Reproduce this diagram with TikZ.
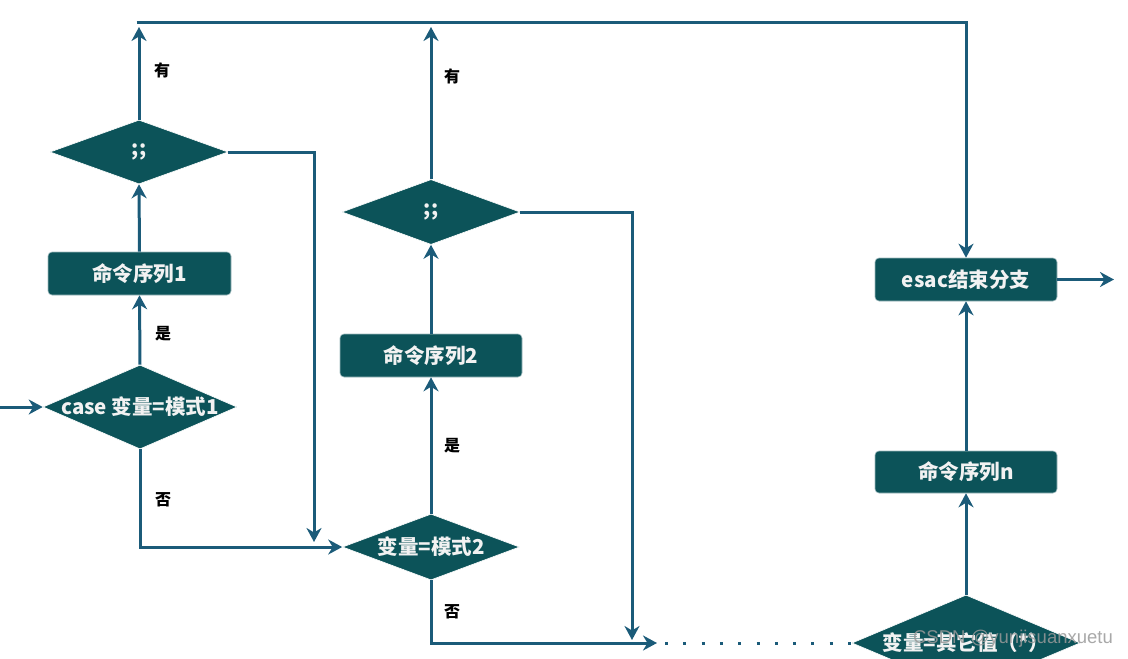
\documentclass[tikz,border=0pt]{standalone}
\usepackage{fontspec}
\setmainfont{Noto Sans CJK SC}
\newfontfamily\wmfont{Liberation Sans}
\usetikzlibrary{shapes.geometric,arrows.meta}
\definecolor{fillc}{HTML}{0C5359}
\definecolor{linec}{HTML}{1B5B79}
\definecolor{txtc}{HTML}{F2F2F2}
\tikzset{
  dia/.style={diamond, fill=fillc, draw=white, line width=0.6pt, inner sep=0pt, text=txtc,
    font=\bfseries\fontsize{20.5}{21}\selectfont},
  box/.style={rectangle, rounded corners=4pt, fill=fillc, draw=fillc!40!white, line width=0.6pt,
    inner sep=0pt, text=txtc, font=\bfseries\fontsize{20.5}{21}\selectfont},
  conn/.style={draw=linec, line width=3pt, -{Stealth[length=14pt,width=15pt,inset=4.5pt]}},
  plain/.style={draw=linec, line width=3pt},
  dots/.style={draw=linec, line width=3pt, dash pattern=on 3pt off 15.3pt},
  lbl/.style={text=black, font=\bfseries\fontsize{16}{17}\selectfont},
}
\begin{document}
\begin{tikzpicture}[x=1pt,y=-1pt]
\useasboundingbox (0,0) rectangle (1128,659);
\clip (0,0) rectangle (1128,659);
% nodes
\node[dia, minimum width=178, minimum height=64] (d1) at (139,152) {\makebox[0pt]{;;}};
\node[box, minimum width=183, minimum height=43] (b1) at (139.5,273.5) {命令序列1};
\node[dia, minimum width=194, minimum height=84] (c1) at (140,407) {\makebox[0pt]{case 变量=模式1}};
\node[dia, minimum width=178, minimum height=65] (d2) at (431,212) {\makebox[0pt]{;;}};
\node[box, minimum width=182, minimum height=43] (b2) at (431,355.5) {命令序列2};
\node[dia, minimum width=177, minimum height=66] (c2) at (431,547) {\makebox[0pt]{变量=模式2}};
\node[dia, minimum width=228, minimum height=96] (c3) at (966,643) {\makebox[0pt]{变量=其它值（*）}};
\node[box, minimum width=182, minimum height=42] (bn) at (966,472) {命令序列n};
\node[box, minimum width=182, minimum height=43] (be) at (966,279.5) {esac结束分支};
% coordinates
\coordinate (in) at (0,407);
\coordinate (tl) at (136.5,22);
\coordinate (u1) at (139,27);
\coordinate (u2) at (431,27);
\coordinate (k1) at (314,542);
\coordinate (k2) at (632,640);
\coordinate (k3) at (657,643);
\coordinate (k4) at (665,643);
\coordinate (out) at (1114,279.5);
% connectors
\draw[conn] (in) -- (c1.west);
\draw[conn] (c1.north) -- (b1.south);
\draw[conn] (b1.north) -- (d1.south);
\draw[conn] (d1.north) -- (u1);
\draw[conn] (tl) -| (be.north);
\draw[conn] (d1.east) -| (k1);
\draw[conn] (c1.south) |- (c2.west);
\draw[conn] (c2.north) -- (b2.south);
\draw[conn] (b2.north) -- (d2.south);
\draw[conn] (d2.north) -- (u2);
\draw[conn] (d2.east) -| (k2);
\draw[conn] (c2.south) |- (k3);
\draw[dots] (k4) -- (c3.west);
\draw[conn] (c3.north) -- (bn.south);
\draw[conn] (bn.north) -- (be.south);
\draw[conn] (be.east) -- (out);
% labels
\node[lbl] (l1) at (162,70) {有};
\node[lbl] (l2) at (452,76) {有};
\node[lbl] (l3) at (163,334) {是};
\node[lbl] (l4) at (452,446) {是};
\node[lbl] (l5) at (163,500) {否};
\node[lbl] (l6) at (452,612) {否};
% watermark
\node[text=gray!80, font=\wmfont\fontsize{18.5}{19}\selectfont, opacity=0.85] (wm) at (1013,639) {CSDN @yunjisuanxuetu};
\end{tikzpicture}
\end{document}
